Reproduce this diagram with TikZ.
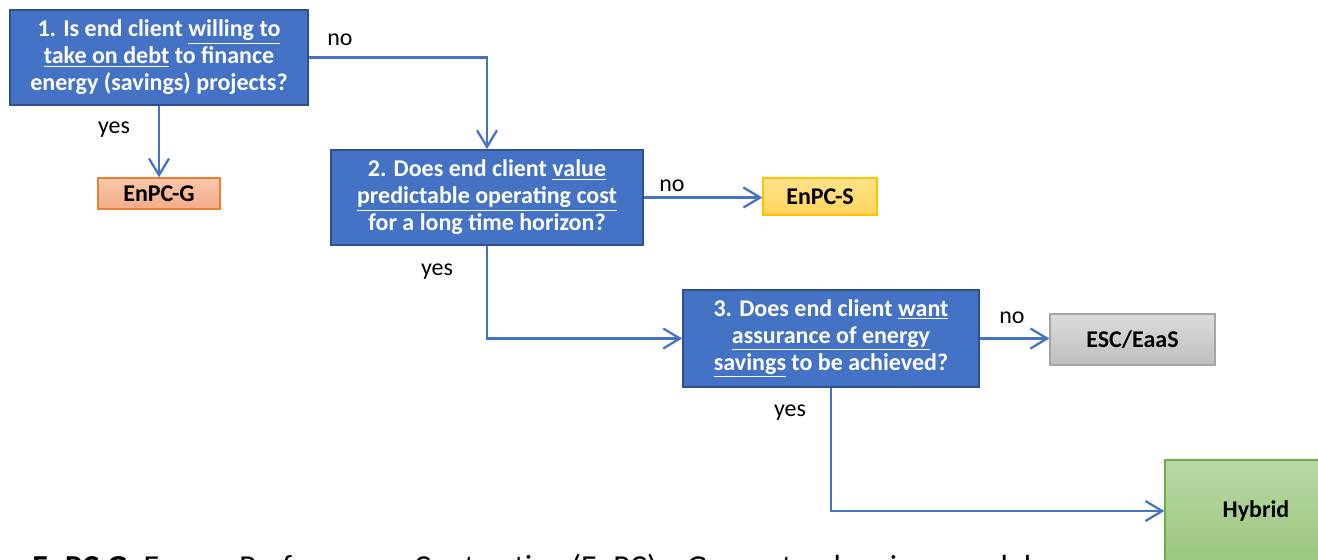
\documentclass[tikz,border=0pt]{standalone}
\usepackage{fontspec}
\setmainfont{Carlito}
\usetikzlibrary{arrows.meta}
\definecolor{qblue}{HTML}{4472C4}
\definecolor{qborder}{HTML}{2F528F}
\definecolor{orgT}{HTML}{F8C7AB}
\definecolor{orgB}{HTML}{F4AC88}
\definecolor{orgD}{HTML}{ED7D31}
\definecolor{yelT}{HTML}{FFE28A}
\definecolor{yelB}{HTML}{FFD55C}
\definecolor{yelD}{HTML}{FFC000}
\definecolor{grT}{HTML}{DCDCDC}
\definecolor{grB}{HTML}{BEBEBE}
\definecolor{grD}{HTML}{A5A5A5}
\definecolor{gnT}{HTML}{B8D8A4}
\definecolor{gnB}{HTML}{9BC77E}
\definecolor{gnD}{HTML}{70AD47}
\tikzset{
  qbox/.style={draw=qborder, line width=1.3pt, fill=qblue, text=white,
    font=\fontsize{18}{20.25}\selectfont\bfseries, align=center, inner sep=0pt},
  obox/.style={line width=1pt, font=\fontsize{18}{20.25}\selectfont\bfseries, inner sep=0pt},
  conn/.style={draw=qblue, line width=1.7pt,
    -{Straight Barb[length=12.5pt, width=15pt, line width=1.7pt]}},
  lbl/.style={font=\fontsize{18}{20.25}\selectfont, inner sep=0pt}
}
\begin{document}
\begin{tikzpicture}[x=0.75pt,y=-0.75pt]
\useasboundingbox (0,0) rectangle (1318,560);
\clip (0,0) rectangle (1318,560);
\fill[white] (0,0) rectangle (1318,560);

\node[qbox, minimum width=298*0.75pt, minimum height=95*0.75pt] (q1) at (159,57.5)
  {1. Is end client \underline{willing to}\\ \underline{take on debt} to finance\\ energy (savings) projects?};
\node[qbox, minimum width=312*0.75pt, minimum height=95*0.75pt] (q2) at (487,197.5)
  {2. Does end client \underline{value}\\ \underline{predictable operating cost}\\ for a long time horizon?};
\node[qbox, minimum width=296*0.75pt, minimum height=97*0.75pt] (q3) at (831,338.5)
  {3. Does end client \underline{want}\\ \underline{assurance of energy}\\ \underline{savings} to be achieved?};

\node[obox, draw=orgD, top color=orgT, bottom color=orgB,
  minimum width=122*0.75pt, minimum height=31*0.75pt] (g) at (159,193.5) {EnPC-G};
\node[obox, draw=yelD, top color=yelT, bottom color=yelB,
  minimum width=114*0.75pt, minimum height=37*0.75pt] (s) at (820,196.5) {EnPC-S};
\node[obox, draw=grD, top color=grT, bottom color=grB,
  minimum width=165*0.75pt, minimum height=51*0.75pt] (e) at (1132.5,339.5) {ESC/EaaS};
\node[obox, draw=gnD, top color=gnT, bottom color=gnB,
  minimum width=182*0.75pt, minimum height=102*0.75pt] (h) at (1256,511) {Hybrid};

\draw[conn] (q1.east) -| (q2.north);
\draw[conn] (q1.south) -- (g.north);
\draw[conn] (q2.east) -- (q2.east -| s.west);
\draw[conn] (q2.south) |- (q3.west);
\draw[conn] (q3.east) -- (q3.east -| e.west);
\draw[conn] (q3.south) |- (h.west);

\node[lbl] (l1) at (340,40) {no};
\node[lbl] (l2) at (114,130) {yes};
\node[lbl] (l3) at (672,186) {no};
\node[lbl] (l4) at (437,272) {yes};
\node[lbl] (l5) at (1012,318) {no};
\node[lbl] (l6) at (790,413) {yes};

\node[anchor=base west, inner sep=0pt, font=\fontsize{24}{28}\selectfont] (note) at (32,577)
  {\textbf{EnPC-G:} Energy Performance Contracting (EnPC) – Guaranteed savings model};
\end{tikzpicture}
\end{document}
